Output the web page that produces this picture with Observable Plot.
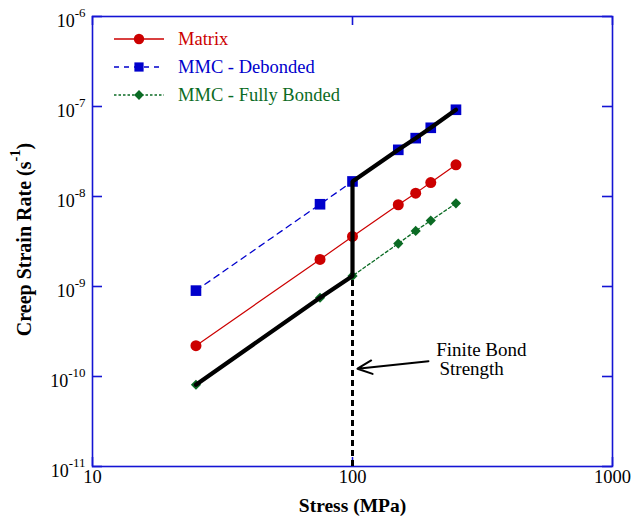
<!DOCTYPE html>
<html><head><meta charset="utf-8">
<script src="https://cdn.jsdelivr.net/npm/d3@7"></script>
<script src="https://cdn.jsdelivr.net/npm/@observablehq/plot@0.6"></script>
<style>body{margin:0;background:#fff}</style>
</head><body><div id="chart"></div>
<script>
// ---- data ----
const stress = [25, 75, 100, 150, 175, 200, 250];
const matrixRate = [2.2e-10, 2.0e-9, 3.6e-9, 8.1e-9, 1.09e-8, 1.43e-8, 2.25e-8];
const debondedRate = [9.0e-10, 8.2e-9, 1.47e-8, 3.3e-8, 4.45e-8, 5.8e-8, 9.2e-8];
const bondedRate = [8.1e-11, 7.5e-10, 1.31e-9, 3.0e-9, 4.15e-9, 5.4e-9, 8.4e-9];
const bondStrengthStress = 100;
const xTickValues = [10, 100, 1000];
const xTickLabels = ["10", "100", "1000"];
const yTickExponents = [-11, -10, -9, -8, -7, -6];
const seriesNames = ["Matrix", "MMC - Debonded", "MMC - Fully Bonded"];
const annotationLines = ["Finite Bond", "Strength"];
const annotationStress = [210, 216];
const annotationRate = [1.98e-10, 1.23e-10];
const arrowFrom = [196, 1.48e-10];
const arrowTo = [104.5, 1.22e-10];
const xTitle = "Stress (MPa)";
const yTitle = "Creep Strain Rate (s^{-1})";

// ---- styles ----
const RED = "#cc0000", BLUE = "#0000cc", GREEN = "#0b6b24", FRAME = "#1414d4";
const FONT = "'Liberation Serif', 'Times New Roman', serif";

const mk = (ys) => stress.map((x, i) => ({x, y: ys[i]}));
const matrix = mk(matrixRate), debonded = mk(debondedRate), bonded = mk(bondedRate);
const bondPath = bonded.filter(d => d.x <= bondStrengthStress)
  .concat(debonded.filter(d => d.x >= bondStrengthStress));
const bondAt = bonded.find(d => d.x === bondStrengthStress).y;
const yTickValues = yTickExponents.map(e => Math.pow(10, e));
const annotations = annotationLines.map((t, i) => ({t, x: annotationStress[i], y: annotationRate[i]}));

const chart = Plot.plot({
  width: 641, height: 524,
  marginLeft: 92, marginRight: 29, marginTop: 16, marginBottom: 58,
  x: {type: "log", domain: [10, 1000], axis: null},
  y: {type: "log", domain: [1e-11, 1e-6], axis: null},
  style: {fontFamily: FONT, background: "white", overflow: "visible"},
  marks: [
    Plot.frame({stroke: FRAME, strokeWidth: 1.6}),
    Plot.tickY(yTickValues, {y: d => d, insetRight: 510, stroke: FRAME, strokeWidth: 1.6}),
    Plot.tickY(yTickValues, {y: d => d, insetLeft: 510, stroke: FRAME, strokeWidth: 1.6}),
    Plot.tickX(xTickValues, {x: d => d, insetBottom: 441, stroke: FRAME, strokeWidth: 1.6}),
    Plot.tickX(xTickValues, {x: d => d, insetTop: 441, stroke: FRAME, strokeWidth: 1.6}),
    Plot.text(xTickValues, {x: d => d, frameAnchor: "bottom", dy: 16, text: (d, i) => xTickLabels[i], fontSize: 18.5, fill: "black"}),
    Plot.text(yTickValues, {y: d => d, frameAnchor: "left", dx: -7, dy: 4.5, textAnchor: "end", text: (d, i) => `10^{${yTickExponents[i]}}`, fontSize: 18, fill: "black"}),
    Plot.text([xTitle], {frameAnchor: "bottom", dy: 45.5, text: d => d, fontSize: 19.5, fontWeight: "bold", fill: "black"}),
    Plot.text([yTitle], {frameAnchor: "left", dx: -68, dy: -2, rotate: -90, textAnchor: "middle", text: d => d, fontSize: 20, fontWeight: "bold", fill: "black"}),
    // series lines
    Plot.line(debonded, {x: "x", y: "y", stroke: BLUE, strokeWidth: 1.3, strokeDasharray: "6,5"}),
    Plot.line(matrix, {x: "x", y: "y", stroke: RED, strokeWidth: 1.2}),
    Plot.line(bonded, {x: "x", y: "y", stroke: GREEN, strokeWidth: 1.3, strokeDasharray: "3,2.5"}),
    Plot.dot(debonded, {x: "x", y: "y", symbol: "square", r: 6, fill: BLUE}),
    Plot.dot(matrix, {x: "x", y: "y", symbol: "circle", r: 5.5, fill: RED}),
    Plot.dot(bonded, {x: "x", y: "y", symbol: "diamond2", r: 4.6, fill: GREEN}),
    // finite bond strength path
    Plot.ruleX([bondStrengthStress], {x: d => d, y1: 1e-11, y2: bondAt, stroke: "black", strokeWidth: 3, strokeDasharray: "6,4"}),
    Plot.line(bondPath, {x: "x", y: "y", stroke: "black", strokeWidth: 4.2, strokeLinejoin: "miter"}),
    Plot.arrow([0], {x1: () => arrowFrom[0], y1: () => arrowFrom[1], x2: () => arrowTo[0], y2: () => arrowTo[1], stroke: "black", strokeWidth: 2, headLength: 12, headAngle: 50}),
    Plot.text(annotations, {x: "x", y: "y", text: "t", textAnchor: "start", fontSize: 19, fill: "black"})
  ]
});

document.getElementById("chart").append(chart);
const svg = chart.tagName.toLowerCase() === "svg" ? chart : chart.querySelector("svg");

// superscripts for "^{...}" segments
d3.select(svg).selectAll("text").each(function() {
  const t = this, s = t.textContent;
  if (!s.includes("^{")) return;
  const fs = parseFloat(getComputedStyle(t).fontSize) || 18;
  const parts = s.split(/\^\{([^}]*)\}/);
  t.textContent = "";
  let raised = false;
  parts.forEach((p, i) => {
    if (!p) return;
    const sup = i % 2 === 1;
    const ts = d3.select(t).append("tspan").text(p);
    if (sup) { ts.attr("dy", -0.53 * fs).attr("font-size", 0.72 * fs); raised = true; }
    else if (raised) { ts.attr("dy", 0.53 * fs); raised = false; }
  });
});

// legend inside the frame
const legendStyles = [
  {color: RED, dash: null, symbol: d3.symbolCircle, r: 5.2},
  {color: BLUE, dash: "5,5", symbol: d3.symbolSquare, r: 5.2},
  {color: GREEN, dash: "2.5,2", symbol: d3.symbolDiamond2, r: 4.4}
];
const lg = d3.select(svg).append("g").style("font-family", FONT).attr("font-size", 18.5).attr("text-anchor", "start");
seriesNames.forEach((name, i) => {
  const st = legendStyles[i], y = 39 + i * 28;
  lg.append("line").attr("x1", 114).attr("x2", 164).attr("y1", y).attr("y2", y)
    .attr("stroke", st.color).attr("stroke-width", 1.3).attr("stroke-dasharray", st.dash);
  lg.append("path").attr("transform", `translate(139,${y})`)
    .attr("d", d3.symbol(st.symbol, Math.PI * st.r * st.r)()).attr("fill", st.color);
  lg.append("text").attr("x", 178).attr("y", y).attr("dy", "0.34em").attr("text-anchor", "start")
    .attr("fill", st.color).text(name);
});
</script></body></html>
